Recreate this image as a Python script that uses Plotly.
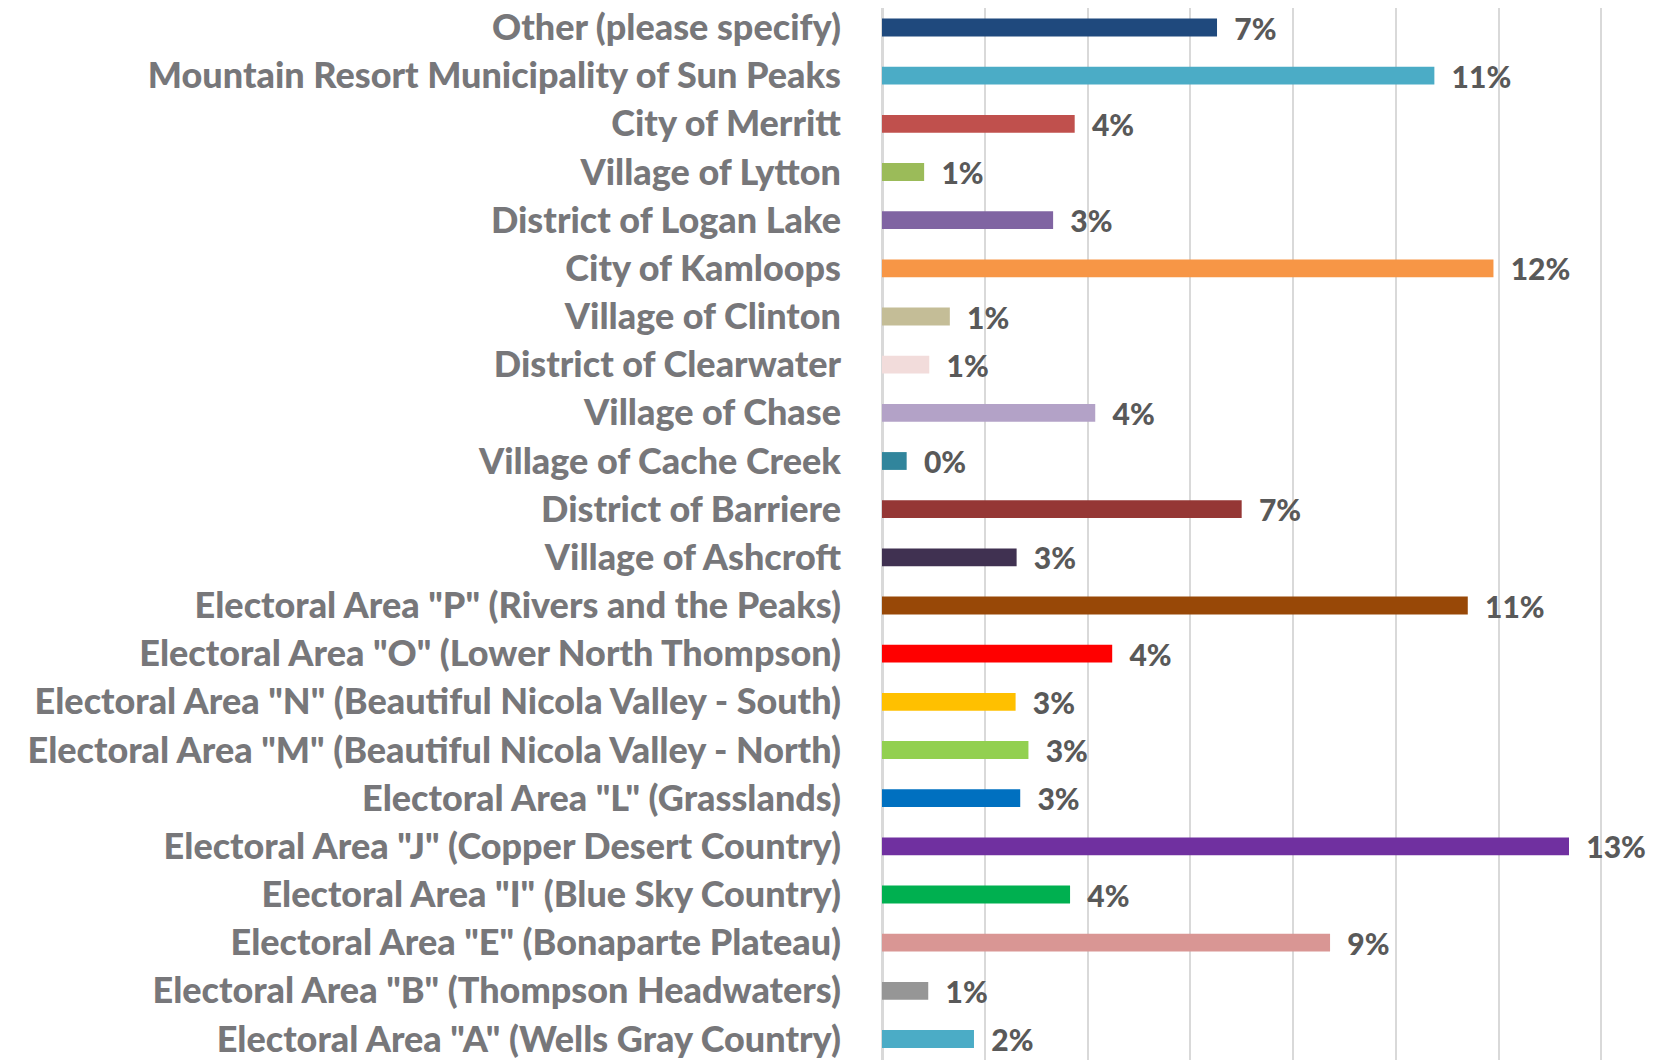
import plotly.graph_objects as go

categories = [
    "Other (please specify)",
    "Mountain Resort Municipality of Sun Peaks",
    "City of Merritt",
    "Village of Lytton",
    "District of Logan Lake",
    "City of Kamloops",
    "Village of Clinton",
    "District of Clearwater",
    "Village of Chase",
    "Village of Cache Creek",
    "District of Barriere",
    "Village of Ashcroft",
    'Electoral Area "P" (Rivers and the Peaks)',
    'Electoral Area "O" (Lower North Thompson)',
    'Electoral Area "N" (Beautiful Nicola Valley - South)',
    'Electoral Area "M" (Beautiful Nicola Valley - North)',
    'Electoral Area "L" (Grasslands)',
    'Electoral Area "J" (Copper Desert Country)',
    'Electoral Area "I" (Blue Sky Country)',
    'Electoral Area "E" (Bonaparte Plateau)',
    'Electoral Area "B" (Thompson Headwaters)',
    'Electoral Area "A" (Wells Gray Country)',
]

values = [
    0.0652, 0.1075, 0.0375, 0.0082, 0.0333, 0.1190, 0.0132, 0.0092,
    0.0415, 0.0048, 0.0700, 0.0262, 0.1140, 0.0448, 0.0260, 0.0285,
    0.0269, 0.1337, 0.0366, 0.0872, 0.0090, 0.0179,
]

colors = [
    "#1F497D", "#4BACC6", "#C0504D", "#9BBB59", "#8064A2", "#F79646",
    "#C4BD97", "#F2DCDB", "#B3A2C7", "#31859C", "#953735", "#403151",
    "#984807", "#FF0000", "#FFC000", "#92D050", "#0070C0", "#7030A0",
    "#00B050", "#D99694", "#969696", "#4BACC6",
]

fig = go.Figure(
    go.Bar(
        x=values,
        y=categories,
        orientation="h",
        marker=dict(color=colors, line=dict(width=0)),
        texttemplate="\u00a0\u00a0%{x:.0%}",
        textposition="outside",
        constraintext="none",
        textfont=dict(family="Lato", size=30, color="#595959", weight=900),
        cliponaxis=False,
        hoverinfo="skip",
    )
)

fig.update_layout(
    width=1654,
    height=1052,
    margin=dict(l=874, r=0, t=0, b=0),
    paper_bgcolor="white",
    plot_bgcolor="white",
    bargap=0.63,
    showlegend=False,
    font=dict(family="Lato"),
)

fig.update_xaxes(
    range=[0, 0.1518],
    dtick=0.02,
    showgrid=True,
    gridcolor="#D9D9D9",
    gridwidth=2,
    zeroline=True,
    zerolinecolor="#D9D9D9",
    zerolinewidth=3,
    showticklabels=False,
    showline=False,
    automargin=False,
)

fig.update_yaxes(
    range=[21.436, -0.405],
    showgrid=False,
    zeroline=False,
    ticks="",
    ticklabelstandoff=40,
    automargin=False,
    tickfont=dict(family="Lato", size=36, color="#77777A", weight=900),
)

fig.write_html("out.html")
